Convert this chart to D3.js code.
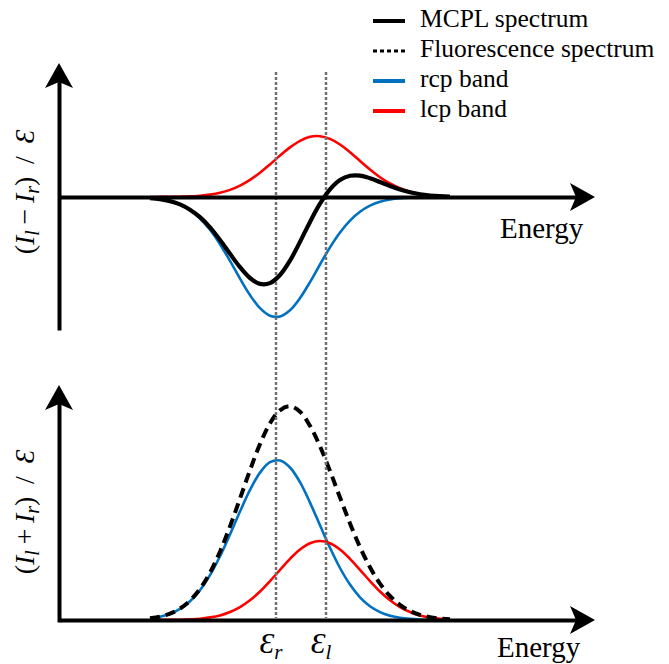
<!DOCTYPE html>
<html>
<head>
<meta charset="utf-8">
<script src="https://cdn.jsdelivr.net/npm/d3@7"></script>
<style>
  body { margin: 0; background: #fff; }
  svg { display: block; }
  svg text { font-family: 'Liberation Serif', 'Times New Roman', serif; }
</style>
</head>
<body>
<svg width="669" height="664"></svg>
<script>
// energy grid (arbitrary units) and the curves
const energy = [18, 20, 22, 24, 26, 28, 30, 32, 34, 36, 38, 40, 42, 44, 46, 48, 50, 52, 54, 56, 58, 60, 62, 64, 66, 68, 70, 72, 74, 76, 78];

// top panel: (Il - Ir)
const lcpTop = [0.000, 0.001, 0.001, 0.003, 0.006, 0.013, 0.024, 0.042, 0.071, 0.114, 0.171, 0.243, 0.326, 0.414, 0.496, 0.562, 0.602, 0.608, 0.581, 0.525, 0.448, 0.361, 0.275, 0.198, 0.135, 0.087, 0.053, 0.030, 0.016, 0.008, 0.004];
const rcpTop = [-0.011, -0.022, -0.042, -0.077, -0.133, -0.215, -0.328, -0.472, -0.639, -0.816, -0.981, -1.112, -1.187, -1.194, -1.132, -1.011, -0.851, -0.675, -0.504, -0.355, -0.236, -0.147, -0.087, -0.048, -0.025, -0.012, -0.006, -0.003, -0.001, 0.000, 0.000];
const mcpl = [-0.011, -0.021, -0.041, -0.074, -0.127, -0.202, -0.304, -0.430, -0.568, -0.702, -0.810, -0.869, -0.861, -0.780, -0.636, -0.449, -0.249, -0.067, 0.077, 0.170, 0.212, 0.214, 0.188, 0.150, 0.110, 0.075, 0.047, 0.027, 0.015, 0.008, 0.004];

// bottom panel: (Il + Ir)
const rcpBottom = [0.017, 0.033, 0.062, 0.111, 0.187, 0.298, 0.448, 0.637, 0.856, 1.085, 1.301, 1.474, 1.578, 1.595, 1.525, 1.378, 1.174, 0.947, 0.722, 0.520, 0.354, 0.227, 0.138, 0.079, 0.043, 0.022, 0.011, 0.005, 0.002, 0.001, 0.000];
const lcpBottom = [0.000, 0.001, 0.001, 0.003, 0.007, 0.013, 0.026, 0.046, 0.080, 0.129, 0.197, 0.285, 0.389, 0.502, 0.612, 0.705, 0.768, 0.790, 0.768, 0.705, 0.612, 0.502, 0.389, 0.285, 0.197, 0.129, 0.080, 0.046, 0.026, 0.013, 0.007];
const fluorescence = [0.017, 0.034, 0.063, 0.114, 0.194, 0.311, 0.474, 0.683, 0.936, 1.214, 1.498, 1.759, 1.967, 2.097, 2.137, 2.083, 1.942, 1.737, 1.490, 1.225, 0.966, 0.729, 0.527, 0.364, 0.240, 0.151, 0.091, 0.051, 0.028, 0.014, 0.007];

// band centre markers
const bandEnergy = [43.2, 53.2];
const bandSub = ['r', 'l'];

// legend
const legendLabels = ['MCPL spectrum', 'Fluorescence spectrum', 'rcp band', 'lcp band'];
const legendColors = ['#000', '#000', '#0070C0', '#FF0000'];
const legendDash = [null, '4,3', null, null];

const BLUE = '#0070C0', RED = '#FF0000';

const svg = d3.select('svg');

const x = d3.scaleLinear().domain([0, 107]).range([60, 595]);
const yTop = d3.scaleLinear().domain([-1, 1]).range([297, 97]);
const yBot = d3.scaleLinear().domain([0, 2]).range([620, 420]);

function series(vals) {
  return energy.map((e, i) => ({ e: e, v: vals[i] }));
}

function drawCurve(yScale, vals, color, width, dash) {
  const line = d3.line()
    .x(d => x(d.e))
    .y(d => yScale(d.v))
    .curve(d3.curveCatmullRom);
  svg.append('path')
    .datum(series(vals))
    .attr('d', line)
    .attr('fill', 'none')
    .attr('stroke', color)
    .attr('stroke-width', width)
    .attr('stroke-dasharray', dash)
    .attr('stroke-linejoin', 'round');
}

// arrow head pointing in direction (dx, dy) with tip at (tx, ty)
function arrowHead(tx, ty, dx, dy) {
  const len = 25, half = 14, notch = 6;
  const px = -dy, py = dx;
  const bx = tx - dx * len, by = ty - dy * len;
  const p = d3.path();
  p.moveTo(tx, ty);
  p.lineTo(bx + px * half, by + py * half);
  p.lineTo(tx - dx * (len - notch), ty - dy * (len - notch));
  p.lineTo(bx - px * half, by - py * half);
  p.closePath();
  svg.append('path').attr('d', p.toString()).attr('fill', '#000');
}

function styleAxis(g) {
  g.select('.domain').attr('stroke', '#000').attr('stroke-width', 4);
}

// ---- top panel ----
drawCurve(yTop, lcpTop, RED, 2.6);
drawCurve(yTop, rcpTop, BLUE, 2.6);

// ---- bottom panel ----
drawCurve(yBot, rcpBottom, BLUE, 2.6);
drawCurve(yBot, lcpBottom, RED, 2.6);
drawCurve(yBot, fluorescence, '#000', 4, '10,6');

// dotted guide lines at the band energies
svg.selectAll('line.guide')
  .data(bandEnergy)
  .enter()
  .append('line')
  .attr('class', 'guide')
  .attr('x1', d => x(d)).attr('x2', d => x(d))
  .attr('y1', yTop(1.25)).attr('y2', yBot(0.02))
  .attr('stroke', '#707070')
  .attr('stroke-width', 2.5)
  .attr('stroke-dasharray', '3,2');

// axes (domain lines only) with arrow heads
const xAxisScale = x.copy().domain([0, 104]).range([x(0), x(104)]);
const xAxis = d3.axisBottom(xAxisScale).tickValues([]).tickSizeOuter(0);

svg.append('g').attr('transform', `translate(0,${yTop(0)})`).call(xAxis).call(styleAxis);
svg.append('g').attr('transform', `translate(0,${yBot(0)})`).call(xAxis).call(styleAxis);

const yTopAxis = d3.axisLeft(yTop.copy().domain([-1.33, 1.28]).range([yTop(-1.33), yTop(1.28)])).tickValues([]).tickSizeOuter(0);
svg.append('g').attr('transform', `translate(${x(0) - 1},0)`).call(yTopAxis).call(styleAxis);

const yBotAxis = d3.axisLeft(yBot.copy().domain([-0.02, 2.2]).range([yBot(-0.02), yBot(2.2)])).tickValues([]).tickSizeOuter(0);
svg.append('g').attr('transform', `translate(${x(0) - 1},0)`).call(yBotAxis).call(styleAxis);

arrowHead(x(107), yTop(0), 1, 0);
arrowHead(x(107), yBot(0), 1, 0);
arrowHead(x(0) - 1, yTop(1.34), 0, -1);
arrowHead(x(0) - 1, yBot(2.35), 0, -1);

// MCPL curve on top
drawCurve(yTop, mcpl, '#000', 4.2);

// axis titles
svg.append('text').attr('x', 500).attr('y', yTop(0) + 41)
  .style('font-size', '29px').text('Energy');
svg.append('text').attr('x', 497).attr('y', yBot(0) + 37)
  .style('font-size', '29px').text('Energy');

function yLabel(cy, sign) {
  const t = svg.append('text')
    .attr('transform', `translate(34,${cy}) rotate(-90)`)
    .attr('text-anchor', 'middle')
    .style('font-size', '28px');
  t.append('tspan').text('(');
  t.append('tspan').style('font-style', 'italic').text('I');
  t.append('tspan').style('font-style', 'italic').style('font-size', '20px').attr('dy', 5).text('l');
  t.append('tspan').attr('dy', -5).text('\u2009' + sign + '\u2009');
  t.append('tspan').style('font-style', 'italic').text('I');
  t.append('tspan').style('font-style', 'italic').style('font-size', '20px').attr('dy', 5).text('r');
  t.append('tspan').attr('dy', -5).text(')\u2009 / \u2009');
  t.append('tspan').style('font-style', 'italic').text('\u0190');
}
yLabel(192, '\u2212');
yLabel(512, '+');

// band energy labels
const bl = svg.selectAll('text.band')
  .data(bandEnergy)
  .enter()
  .append('text')
  .attr('class', 'band')
  .attr('x', d => x(d) - 5)
  .attr('y', 653)
  .attr('text-anchor', 'middle')
  .style('font-size', '30px');
bl.append('tspan').style('font-style', 'italic').text('\u0190');
bl.append('tspan').style('font-style', 'italic').style('font-size', '21px').attr('dy', 6)
  .text((d, i) => bandSub[i]);

// legend
const leg = svg.selectAll('g.leg')
  .data(legendLabels)
  .enter()
  .append('g')
  .attr('class', 'leg')
  .attr('transform', (d, i) => `translate(0,${27 + i * 30})`);
leg.append('line')
  .attr('x1', 373).attr('x2', 405)
  .attr('y1', -6).attr('y2', -6)
  .attr('stroke', (d, i) => legendColors[i])
  .attr('stroke-width', (d, i) => legendDash[i] ? 3 : 4)
  .attr('stroke-dasharray', (d, i) => legendDash[i]);
leg.append('text')
  .attr('x', 420).attr('y', 0)
  .style('font-size', '25.5px')
  .text(d => d);
</script>
</body>
</html>
